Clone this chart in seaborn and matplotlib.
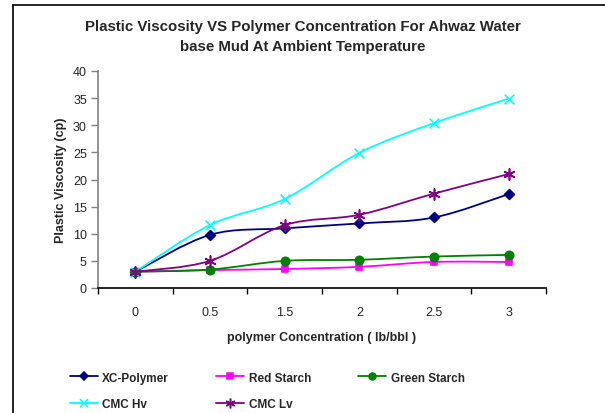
import numpy as np
import matplotlib
matplotlib.use("Agg")
import matplotlib.pyplot as plt
import seaborn as sns
from matplotlib.path import Path
from matplotlib.patches import PathPatch
from matplotlib.lines import Line2D

# data
concentration = ["0", "0.5", "1.5", "2", "2.5", "3"]
xc_polymer = [3.0, 9.8, 11.0, 11.9, 13.0, 17.3]
red_starch = [3.0, 3.3, 3.5, 3.9, 4.8, 4.8]
green_starch = [3.0, 3.4, 5.0, 5.2, 5.8, 6.1]
cmc_hv = [3.0, 11.6, 16.4, 24.9, 30.4, 34.9]
cmc_lv = [3.0, 5.0, 11.6, 13.5, 17.4, 21.0]

series_names = ["XC-Polymer", "Red Starch", "Green Starch", "CMC Hv", "CMC Lv"]
series_values = [xc_polymer, red_starch, green_starch, cmc_hv, cmc_lv]
colors = ["#000080", "#FF00FF", "#008000", "#00FFFF", "#800080"]
markers = ["D", "s", "o", "x", (6, 2, 0)]
msizes = [5, 5, 6, 7, 8]

sns.set_style("white")
plt.rcParams["font.family"] = ["Liberation Sans", "DejaVu Sans"]

fig = plt.figure(figsize=(6.05, 4.14), dpi=100)
ax = fig.add_axes([98 / 605, 1 - 289 / 414, 448 / 605, 217 / 414])


# excel style smoothed line (bezier through the points)
def smooth_path(xs, ys):
    pts = np.column_stack([xs, ys]).astype(float)
    n = len(pts)
    verts = [pts[0]]
    codes = [Path.MOVETO]
    for i in range(n - 1):
        p_prev = pts[max(i - 1, 0)]
        p_next2 = pts[min(i + 2, n - 1)]
        c1 = pts[i] + (pts[i + 1] - p_prev) / 6
        c2 = pts[i + 1] - (p_next2 - pts[i]) / 6
        verts += [c1, c2, pts[i + 1]]
        codes += [Path.CURVE4] * 3
    return Path(verts, codes)


pos = np.arange(len(concentration))
handles = []
for name, vals, col, mk, ms in zip(series_names, series_values, colors, markers, msizes):
    ax.add_patch(PathPatch(smooth_path(pos, vals), facecolor="none",
                           edgecolor=col, lw=1.3, zorder=2))
    sns.scatterplot(x=pos, y=vals, ax=ax, color=col, marker=mk, s=ms ** 2,
                    edgecolor=col, linewidth=1.2, zorder=3, legend=False)
    handles.append(Line2D([], [], color=col, marker=mk, markersize=ms - 1,
                          lw=1.3, markeredgewidth=1.1, label=name))

ax.set_xlim(-0.5, len(concentration) - 0.5)
ax.set_ylim(0, 40)
ax.set_yticks(range(0, 41, 5))
ax.set_xticks(pos)
ax.set_xticklabels(concentration)
ax.set_xticks(np.arange(-0.5, len(concentration)), minor=True)
ax.tick_params(axis="x", which="major", length=0, pad=13, labelsize=9)
ax.tick_params(axis="x", which="minor", length=4, width=1, color="black", direction="out")
ax.tick_params(axis="y", length=5, width=1, color="#808080", direction="out", labelsize=9, pad=3)
ax.xaxis.set_tick_params(bottom=True, which="both")
ax.yaxis.set_tick_params(left=True)

for s in ["top", "right"]:
    ax.spines[s].set_visible(False)
ax.spines["left"].set_color("#808080")
ax.spines["left"].set_linewidth(1.2)
ax.spines["bottom"].set_color("black")
ax.spines["bottom"].set_linewidth(1.2)

ax.set_xlabel("polymer Concentration ( lb/bbl )", fontsize=9, fontweight="bold", labelpad=9)
ax.set_ylabel("Plastic Viscosity (cp)", fontsize=9, fontweight="bold", labelpad=4)

fig.text(0.5, 1 - 37 / 414,
         "Plastic Viscosity VS Polymer Concentration For Ahwaz Water\nbase Mud At Ambient Temperature",
         ha="center", va="center", fontsize=10.8, fontweight="bold", linespacing=1.55)

# legend order so rows read like the original
order = [0, 3, 1, 4, 2]
fig.legend([handles[i] for i in order], [series_names[i] for i in order],
           ncol=3, loc="center left", bbox_to_anchor=(59 / 605, 1 - 392 / 414),
           frameon=False, prop={"weight": "bold", "size": 8.5},
           handlelength=2.4, handletextpad=0.35, columnspacing=4.0, labelspacing=1.25)

# chart area border (left and top visible)
fig.add_artist(Line2D([13 / 605, 13 / 605], [0, 1 - 6 / 414], color="black", lw=1.2,
                      transform=fig.transFigure))
fig.add_artist(Line2D([13 / 605, 1], [1 - 6 / 414, 1 - 6 / 414], color="black", lw=1.2,
                      transform=fig.transFigure))

fig.savefig("out.png", dpi=100)
